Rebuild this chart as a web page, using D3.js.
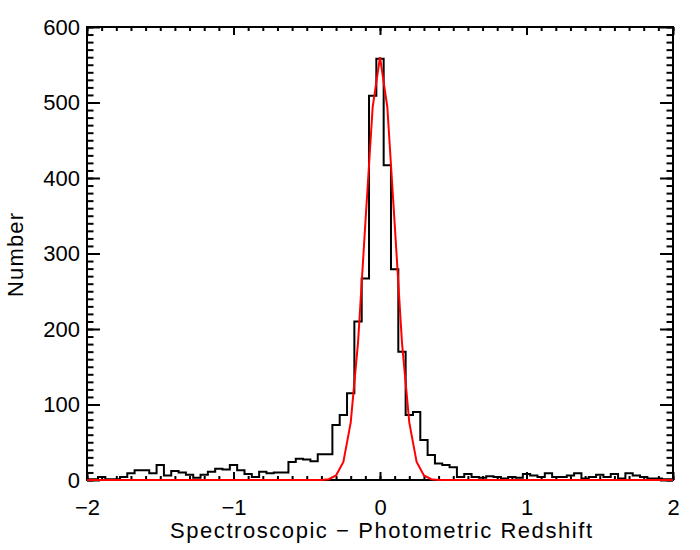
<!DOCTYPE html>
<html>
<head>
<meta charset="utf-8">
<script src="https://cdn.jsdelivr.net/npm/d3@7"></script>
<style>
  body { margin: 0; background: #fff; }
  svg { font-family: "Liberation Sans", Arial, sans-serif; }
</style>
</head>
<body>
<svg width="700" height="550"></svg>
<script>
// histogram counts, bins of 0.05 centred on -2.00 ... 2.00
var binStart = -2, binWidth = 0.05;
var counts = [
  1, 1, 4, 1, 1, 4, 9, 13, 13, 9,
  20, 6, 12, 10, 7, 3, 7, 11, 15, 14,
  20, 13, 8, 4, 11, 9, 10, 10, 24, 28,
  27, 25, 34, 34, 73, 86, 115, 210, 267, 509,
  558, 417, 279, 170, 86, 90, 53, 33, 22, 20,
  17, 4, 8, 4, 3, 5, 4, 2, 4, 3,
  8, 6, 4, 9, 4, 4, 6, 9, 2, 4,
  7, 4, 8, 2, 9, 6, 4, 2, 2, 1,
  1
];

// gaussian fit (red)
var fitX = [-2, -0.4, -0.35, -0.3, -0.25, -0.2, -0.15, -0.1, -0.05, 0, 0.05, 0.1, 0.15, 0.2, 0.25, 0.3, 0.35, 0.4, 2];
var fitY = [0, 0, 1, 6, 24, 76, 182, 340, 494, 560, 494, 340, 182, 76, 24, 6, 1, 0, 0];

var xMajor = [-2, -1, 0, 1, 2];
var yMajor = [0, 100, 200, 300, 400, 500, 600];

var svg = d3.select("svg"),
  margin = { top: 27, right: 27, bottom: 70, left: 87 },
  width = +svg.attr("width") - margin.left - margin.right,
  height = +svg.attr("height") - margin.top - margin.bottom;

var g = svg.append("g").attr("transform", "translate(" + margin.left + "," + margin.top + ")");

var x = d3.scaleLinear().domain([-2, 2]).range([0, width]);
var y = d3.scaleLinear().domain([0, 600]).range([height, 0]);

var xMinor = d3.range(-20, 21).map(function(i) { return i / 10; });
var yMinor = d3.range(0, 61).map(function(i) { return i * 10; });

function styleAxis(sel) {
  sel.select(".domain").remove();
  sel.selectAll(".tick line").attr("stroke", "#000").attr("stroke-width", 2);
  sel.selectAll("text").attr("fill", "#000").style("font-size", "22px");
}

// bottom
g.append("g").attr("transform", "translate(0," + height + ")")
  .call(d3.axisBottom(x).tickValues(xMinor).tickSize(-4).tickFormat(""))
  .call(styleAxis);
g.append("g").attr("transform", "translate(0," + height + ")")
  .call(d3.axisBottom(x).tickValues(xMajor).tickSize(-8).tickPadding(19)
    .tickFormat(function(d) { return d < 0 ? "\u2212" + Math.abs(d) : d; }))
  .call(styleAxis);
// top
g.append("g")
  .call(d3.axisTop(x).tickValues(xMinor).tickSize(-4).tickFormat(""))
  .call(styleAxis);
g.append("g")
  .call(d3.axisTop(x).tickValues(xMajor).tickSize(-8).tickFormat(""))
  .call(styleAxis);
// left
g.append("g")
  .call(d3.axisLeft(y).tickValues(yMinor).tickSize(-6.5).tickFormat(""))
  .call(styleAxis);
g.append("g")
  .call(d3.axisLeft(y).tickValues(yMajor).tickSize(-13).tickPadding(7))
  .call(styleAxis);
// right
g.append("g").attr("transform", "translate(" + width + ",0)")
  .call(d3.axisRight(y).tickValues(yMinor).tickSize(-6.5).tickFormat(""))
  .call(styleAxis);
g.append("g").attr("transform", "translate(" + width + ",0)")
  .call(d3.axisRight(y).tickValues(yMajor).tickSize(-13).tickFormat(""))
  .call(styleAxis);

g.append("rect")
  .attr("width", width)
  .attr("height", height)
  .attr("fill", "none")
  .attr("stroke", "#000")
  .attr("stroke-width", 2);

// histogram as a centred step line
var hist = counts.map(function(c, i) { return [binStart + i * binWidth, c]; });
g.append("path")
  .datum(hist)
  .attr("fill", "none")
  .attr("stroke", "#000")
  .attr("stroke-width", 2)
  .attr("d", d3.line()
    .curve(d3.curveStep)
    .x(function(d) { return x(d[0]); })
    .y(function(d) { return y(d[1]); }));

// fitted gaussian
g.append("path")
  .datum(d3.zip(fitX, fitY))
  .attr("fill", "none")
  .attr("stroke", "#ff0000")
  .attr("stroke-width", 2)
  .attr("d", d3.line()
    .x(function(d) { return x(d[0]); })
    .y(function(d) { return y(d[1]); }));

// labels
svg.append("text")
  .attr("x", 170)
  .attr("y", 538)
  .attr("textLength", 422)
  .attr("lengthAdjust", "spacing")
  .style("font-size", "22px")
  .text("Spectroscopic \u2212 Photometric Redshift");

svg.append("text")
  .attr("transform", "translate(23,297) rotate(-90)")
  .attr("textLength", 84)
  .attr("lengthAdjust", "spacing")
  .style("font-size", "22px")
  .text("Number");
</script>
</body>
</html>
